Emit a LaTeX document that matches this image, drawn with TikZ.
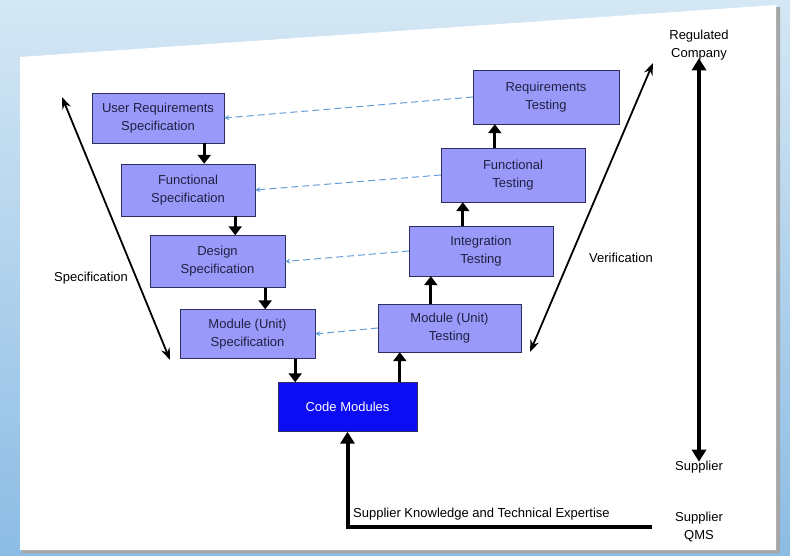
\documentclass[tikz,border=0pt]{standalone}
\usepackage{fontspec}
\setmainfont{Liberation Sans}
\usetikzlibrary{arrows.meta}
\definecolor{boxfill}{RGB}{153,153,250}
\definecolor{boxline}{RGB}{45,45,95}
\definecolor{codefill}{RGB}{12,12,245}
\definecolor{dashblue}{RGB}{100,158,218}
\definecolor{bgtop}{RGB}{212,231,244}
\definecolor{bgbottom}{RGB}{140,188,228}

\begin{document}
\begin{tikzpicture}[x=1pt, y=-1pt,
  every node/.style={font=\fontsize{13}{18}\selectfont, align=center, inner sep=2pt},
  vbox/.style={draw=boxline, fill=boxfill, text=boxline!70!black, minimum width=136pt, minimum height=51pt},
  flow/.style={line width=3pt, -{Triangle[length=9pt,width=13pt]}},
  trace/.style={dashblue, line width=1pt, dash pattern=on 7pt off 4pt, -{Stealth[length=5pt,width=5pt]}},
  span/.style={line width=1.8pt, {Stealth[length=12pt,width=9pt]}-{Stealth[length=12pt,width=9pt]}},
  bigspan/.style={line width=4pt, {Triangle[length=12pt,width=14pt]}-{Triangle[length=12pt,width=14pt]}}]
  \useasboundingbox (0,0) rectangle (790,556);
  % background and sheet
  \shade[top color=bgtop, bottom color=bgbottom] (0,0) rectangle (790,556);
  \fill[gray!70] (22,59) -- (780,7) -- (780,553) -- (22,553) -- cycle;
  \fill[white] (20,57) -- (776,5) -- (776,550) -- (20,550) -- cycle;

  % specification side
  \node[vbox, minimum width=132pt, minimum height=50pt] (urs) at (158,118) {User Requirements\\Specification};
  \node[vbox, minimum width=134pt, minimum height=52pt] (fs) at (188,190) {Functional\\Specification};
  \node[vbox, minimum width=135pt, minimum height=52pt] (ds) at (217.5,261.5) {Design\\Specification};
  \node[vbox, minimum width=135pt, minimum height=49pt] (ms) at (247.5,334) {Module (Unit)\\Specification};
  \node[vbox, fill=codefill, text=white, minimum width=139pt, minimum height=49pt] (code) at (347.5,407) {Code Modules};
  % testing side
  \node[vbox, minimum width=143pt, minimum height=48pt] (mt) at (449.5,328) {Module (Unit)\\Testing};
  \node[vbox, minimum width=144pt, minimum height=50pt] (it) at (481,251) {Integration\\Testing};
  \node[vbox, minimum width=144pt, minimum height=54pt] (ft) at (513,175) {Functional\\Testing};
  \node[vbox, minimum width=146pt, minimum height=54pt] (rt) at (546,97) {Requirements\\Testing};

  \draw[flow] ([xshift=-20pt]urs.south east) -- ([xshift=-20pt]urs.south east |- fs.north);
  \draw[flow] ([xshift=-20pt]fs.south east) -- ([xshift=-20pt]fs.south east |- ds.north);
  \draw[flow] ([xshift=-20pt]ds.south east) -- ([xshift=-20pt]ds.south east |- ms.north);
  \draw[flow] ([xshift=-20pt]ms.south east) -- ([xshift=-20pt]ms.south east |- code.north);
  \draw[flow] ([xshift=22pt]mt.north west |- code.north) -- ([xshift=22pt]mt.south west);
  \draw[flow] ([xshift=22pt]it.north west |- mt.north) -- ([xshift=22pt]it.south west);
  \draw[flow] ([xshift=22pt]ft.north west |- it.north) -- ([xshift=22pt]ft.south west);
  \draw[flow] ([xshift=22pt]rt.north west |- ft.north) -- ([xshift=22pt]rt.south west);

  \draw[trace] (rt.west) -- (urs.east);
  \draw[trace] (ft.west) -- (fs.east);
  \draw[trace] (it.west) -- (ds.east);
  \draw[trace] (mt.west) -- (ms.east);

  % side labels
  \coordinate (specTop) at (62,97);
  \coordinate (specBot) at (170,360);
  \coordinate (verTop) at (653,63);
  \coordinate (verBot) at (530,352);
  \draw[span] (specBot) -- (specTop);
  \draw[span] (verBot) -- (verTop);
  \node (spec) at (91,278) {Specification};
  \node (ver) at (621,258) {Verification};

  \node (reg) at (699,45) {Regulated\\Company};
  \node (sup) at (699,467) {Supplier};
  \node (qms) at (699,527) {Supplier\\QMS};
  \draw[bigspan] ([yshift=4pt]reg.south) -- ([yshift=-3pt]reg.south |- sup.north);

  \coordinate (kEnd) at (652,527);
  \draw[line width=4pt, -{Triangle[length=12pt,width=14pt]}] (kEnd) -- (kEnd -| code.south) -- (code.south);
  \node[anchor=south west] (know) at (351,522) {Supplier Knowledge and Technical Expertise};
\end{tikzpicture}
\end{document}
